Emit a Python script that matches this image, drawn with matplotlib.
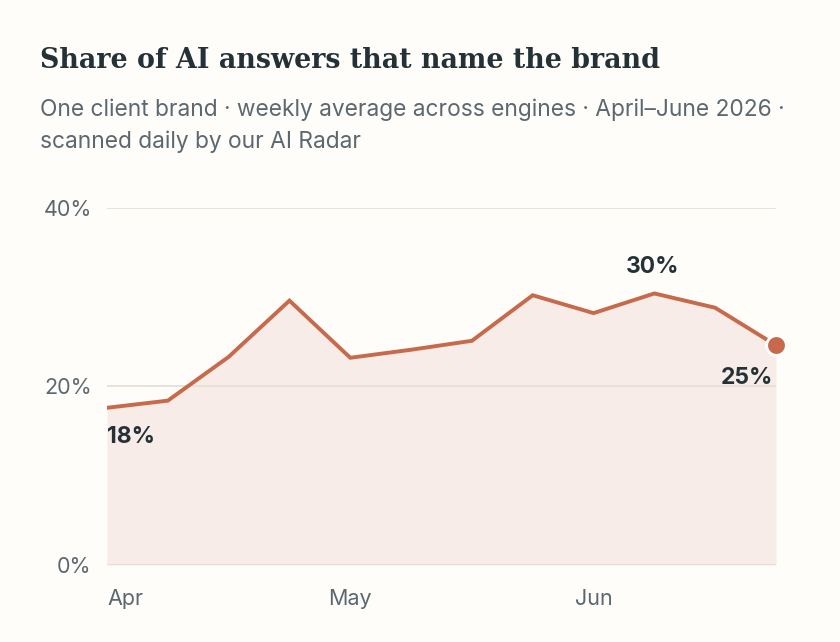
import numpy as np
import matplotlib
matplotlib.use("Agg")
import matplotlib.pyplot as plt

# weekly share of AI answers naming the brand (%)
weeks = np.arange(12)
share = [17.6, 18.4, 23.3, 29.6, 23.2, 24.1, 25.1, 30.2, 28.2, 30.4, 28.8, 24.6]
month_ticks = [0, 4, 8]
month_labels = ['Apr', 'May', 'Jun']
y_ticks = [0, 20, 40]
y_labels = ['0%', '20%', '40%']

BG = '#fffdfa'
LINE = '#c66a4b'
FILL = '#f7ece7'
DARK = '#243238'
GREY = '#5c6870'
GRID = '#e8e0d5'

plt.rcParams['font.family'] = ['Inter', 'DejaVu Sans']

fig = plt.figure(figsize=(8.4, 6.42), dpi=100, facecolor=BG)
ax = fig.add_axes([107/840, 77/642, (776-107)/840, (565-207.7)/642])
ax.set_facecolor(BG)

ax.fill_between(weeks, share, 0, color=FILL, zorder=1, linewidth=0)
ax.plot(weeks, share, color=LINE, linewidth=2.8, zorder=3, solid_joinstyle='miter')
ax.scatter([weeks[-1]], [share[-1]], s=200, color=LINE, edgecolor='white',
           linewidth=2, zorder=4, clip_on=False)

for yv in y_ticks[1:]:
    ax.axhline(yv, color=GRID, linewidth=1.3, zorder=2)
ax.axhline(0, color='#e4d9cc', linewidth=1.8, zorder=2)

# value labels
i_max = int(np.argmax(share))
lbl = dict(textcoords='offset points', fontsize=16.5, fontweight='bold', color=DARK)
ax.annotate(f'{share[i_max]:.0f}%', (weeks[i_max], share[i_max]), xytext=(-1, 11),
            ha='center', va='bottom', **lbl)
ax.annotate(f'{share[0]:.0f}%', (weeks[0], share[0]), xytext=(0, -13),
            ha='left', va='top', **lbl)
ax.annotate(f'{share[-1]:.0f}%', (weeks[-1], share[-1]), xytext=(-2, -16),
            ha='right', va='top', **lbl)

ax.set_xlim(0, 11)
ax.set_ylim(0, 40)
ax.set_yticks(y_ticks)
ax.set_yticklabels(y_labels, fontsize=15.5, color=GREY)
ax.set_xticks(month_ticks)
ax.set_xticklabels(month_labels, fontsize=15.5, color=GREY)
ax.get_xticklabels()[0].set_ha('left')
ax.tick_params(axis='both', length=0)
ax.tick_params(axis='y', pad=11)
ax.tick_params(axis='x', pad=17)
for s in ax.spines.values():
    s.set_visible(False)

fig.text(40/840, 1 - 60/642, 'Share of AI answers that name the brand',
         family='DejaVu Serif', fontweight='bold', fontsize=19.4, color=DARK,
         va='center', ha='left')
fig.text(40/840, 1 - 110/642,
         'One client brand · weekly average across engines · April–June 2026 ·',
         fontsize=16.4, color=GREY, va='center', ha='left')
fig.text(40/840, 1 - 142/642, 'scanned daily by our AI Radar',
         fontsize=16.4, color=GREY, va='center', ha='left')

fig.savefig('out.png', dpi=100, facecolor=BG)
